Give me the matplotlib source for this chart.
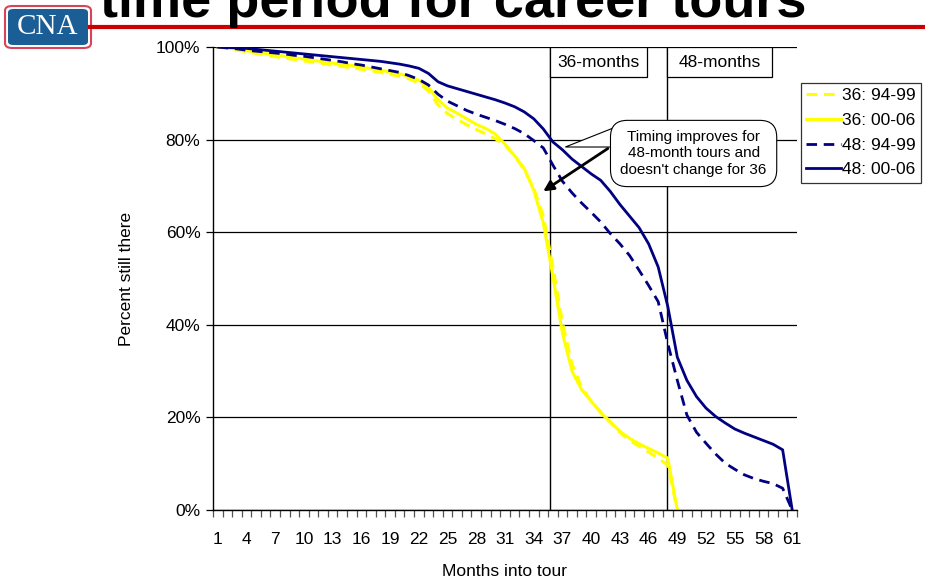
import matplotlib
matplotlib.use('Agg')
import matplotlib.pyplot as plt
from matplotlib.patches import FancyBboxPatch, Rectangle, Polygon
from matplotlib.ticker import FixedLocator
import numpy as np

plt.rcParams['font.family'] = ['Liberation Sans', 'DejaVu Sans']

# months into tour (categories)
months = list(range(1, 62))
tick_months = list(range(1, 62, 3))

# percent still there
y36_9499 = [100, 99.7, 99.3, 99.0, 98.6, 98.3, 97.9, 97.6, 97.3, 97.0,
            96.7, 96.4, 96.1, 95.8, 95.5, 95.2, 94.9, 94.5, 94.1, 93.7,
            93.1, 92.2, 90.5, 87.5, 85.6, 84.4, 83.2, 82.2, 81.2, 80.2,
            78.8, 76.5, 73.5, 69.5, 63.5, 52.5, 40.5, 31.5, 26.5, 23.5,
            21.2, 19.0, 16.8, 15.0, 13.8, 12.5, 11.2, 9.7, 0]
y36_0006 = [100, 99.8, 99.5, 99.2, 98.9, 98.6, 98.3, 98.0, 97.7, 97.4,
            97.1, 96.8, 96.5, 96.3, 96.0, 95.7, 95.3, 95.0, 94.6, 94.2,
            93.6, 92.8, 91.3, 88.6, 86.8, 85.7, 84.5, 83.3, 82.4, 81.2,
            79.0, 76.5, 73.8, 69.1, 62.0, 50.5, 38.2, 30.0, 26.0, 23.5,
            21.0, 19.0, 17.0, 15.5, 14.3, 13.3, 12.3, 11.2, 0]
y48_9499 = [100, 99.8, 99.6, 99.3, 99.1, 98.9, 98.7, 98.5, 98.2, 98.0,
            97.7, 97.4, 97.1, 96.8, 96.4, 96.1, 95.7, 95.3, 94.9, 94.5,
            93.8, 93.0, 91.8, 89.8, 88.3, 87.3, 86.3, 85.5, 84.8, 84.1,
            83.3, 82.4, 81.3, 79.8, 78.2, 74.5, 71.0, 68.5, 66.3, 64.3,
            62.2, 59.7, 57.5, 55.0, 51.8, 48.5, 45.0, 36.0, 28.0, 20.5,
            16.8, 14.4, 12.1, 10.1, 8.8, 7.6, 6.8, 6.2, 5.7, 4.7, 0]
y48_0006 = [100, 99.9, 99.8, 99.7, 99.5, 99.3, 99.1, 98.9, 98.7, 98.5,
            98.3, 98.1, 97.9, 97.7, 97.5, 97.3, 97.1, 96.9, 96.6, 96.3,
            95.9, 95.4, 94.3, 92.5, 91.6, 91.0, 90.4, 89.8, 89.2, 88.6,
            87.9, 87.1, 86.0, 84.5, 82.3, 79.5, 77.8, 75.8, 74.2, 72.6,
            71.2, 68.8, 66.0, 63.5, 61.0, 57.5, 52.5, 44.0, 33.0, 28.0,
            24.5, 22.0, 20.2, 18.8, 17.5, 16.6, 15.8, 15.0, 14.2, 13.0, 0]

YEL = '#FFFF00'
NAVY = '#000080'

fig = plt.figure(figsize=(9.25, 5.83), dpi=100)
ax = fig.add_axes([213/925, 1-510/583, 584/925, 463/583])

ax.plot(months[:len(y36_9499)], y36_9499, color=YEL, lw=2.2, dashes=(3.5, 2.2), label='36: 94-99')
ax.plot(months[:len(y36_0006)], y36_0006, color=YEL, lw=2.2, label='36: 00-06')
ax.plot(months, y48_9499, color=NAVY, lw=2.0, dashes=(3.8, 2.4), label='48: 94-99')
ax.plot(months, y48_0006, color=NAVY, lw=2.0, label='48: 00-06')

ax.set_xlim(0.5, 61.5)
ax.set_ylim(0, 100)
ax.set_yticks(range(0, 101, 20))
ax.set_yticklabels([f'{v}%' for v in range(0, 101, 20)])
ax.yaxis.grid(True, color='black', lw=0.9)
ax.set_axisbelow(True)
for s in ['top', 'right']:
    ax.spines[s].set_visible(False)
ax.spines['left'].set_linewidth(1.0)
ax.spines['bottom'].set_linewidth(1.0)

ax.set_xticks(tick_months)
ax.xaxis.set_minor_locator(FixedLocator(np.arange(0.5, 62, 1)))
ax.tick_params(axis='x', which='major', length=0, labelsize=12.5, pad=16)
ax.tick_params(axis='x', which='minor', length=5, width=0.9, color='#555555')
ax.tick_params(axis='y', length=5, width=0.9, labelsize=12.5, pad=4)

ax.set_xlabel('Months into tour', fontsize=12.5, labelpad=12)
ax.set_ylabel('Percent still there', fontsize=12.5, labelpad=16)

# tour length markers
for xm, xr, lab in [(35.65, 45.85, '36-months'), (47.9, 58.9, '48-months')]:
    ax.axvline(xm, color='black', lw=1.0, zorder=1.5)
    ax.add_patch(Rectangle((xm, 93.5), xr - xm, 6.5, fc='white', ec='black', lw=0.9, zorder=3))
    ax.text((xm + xr) / 2, 96.75, lab, ha='center', va='center', fontsize=12.5, zorder=4)

# callout
ax.add_patch(Polygon([(42.3, 82.5), (37.3, 78.4), (42.3, 78.4)], closed=True,
                     fc='white', ec='black', lw=0.8, zorder=4))
ax.text(50.7, 77.0, "Timing improves for\n48-month tours and\ndoesn't change for 36",
        ha='center', va='center', fontsize=11, zorder=5,
        bbox=dict(boxstyle='round,pad=0.65,rounding_size=1.1', fc='white', ec='black', lw=0.8))
ax.annotate('', xy=(34.75, 68.5), xytext=(41.98, 78.4),
            arrowprops=dict(arrowstyle='-|>,head_length=0.6,head_width=0.3', color='black', lw=2.0),
            zorder=6)

leg = fig.legend(loc='upper left', bbox_to_anchor=(801/925, 1-83/583), fontsize=12.5,
                 frameon=True, fancybox=False, edgecolor='black', handlelength=2.0,
                 handletextpad=0.05, labelspacing=0.55, borderpad=0.3, borderaxespad=0)
leg.get_frame().set_linewidth(0.9)

# header: title, rule and logo
fig.text(100/925, 1-17/583, 'time period for career tours', fontsize=39, fontweight='bold',
         va='baseline', ha='left')
fig.add_artist(plt.Line2D([90/925, 1], [1-27/583, 1-27/583], color='#CC0000', lw=3))
fig.add_artist(FancyBboxPatch((5/925, 1-48/583), 86/925, 42/583,
                              boxstyle='round,pad=0,rounding_size=0.008',
                              fc='white', ec='#D9435A', lw=1.5, transform=fig.transFigure))
fig.add_artist(FancyBboxPatch((8/925, 1-45/583), 80/925, 36/583,
                              boxstyle='round,pad=0,rounding_size=0.006',
                              fc='#1B5E96', ec='none', transform=fig.transFigure))
fig.text(48/925, 1-27/583, 'CNA', color='white', fontsize=21, family='Liberation Serif',
         ha='center', va='center')

fig.savefig('out.png', dpi=100)
